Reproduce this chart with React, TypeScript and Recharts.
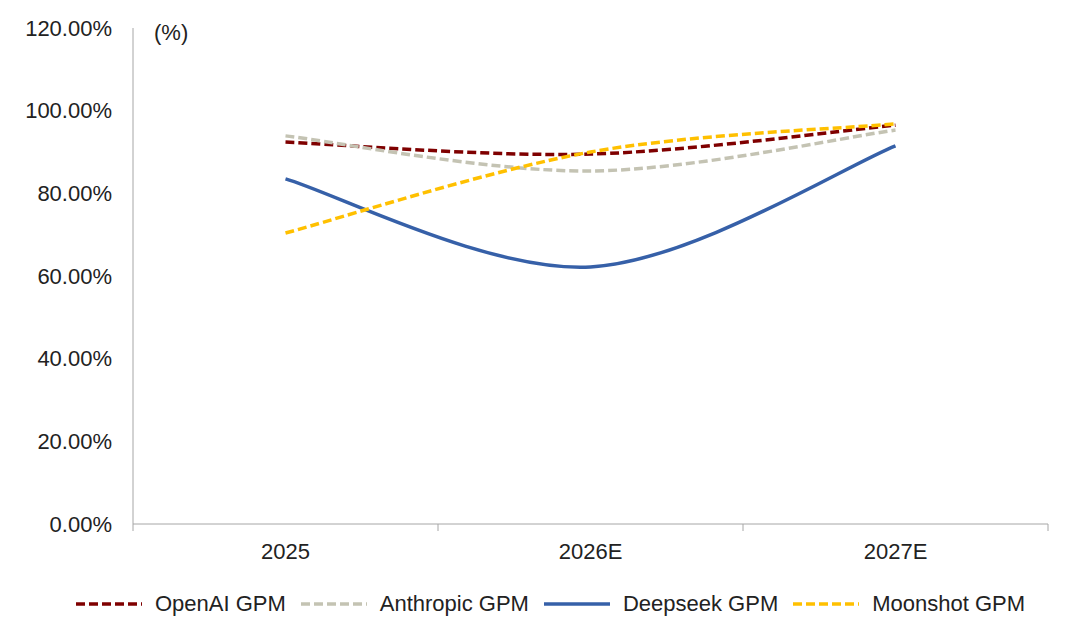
import React from 'react';
import { LineChart, Line, XAxis, YAxis, Legend } from 'recharts';

const categories = ['2025', '2026E', '2027E'];
const openAI = [0.924, 0.895, 0.965];
const anthropic = [0.939, 0.854, 0.953];
const deepseek = [0.835, 0.622, 0.915];
const moonshot = [0.704, 0.9, 0.968];
const yTicks = [0, 0.2, 0.4, 0.6, 0.8, 1.0, 1.2];

const series = [
  { key: 'openAI', name: 'OpenAI GPM', color: '#7f0000', dash: '9 4' },
  { key: 'anthropic', name: 'Anthropic GPM', color: '#c4c3b3', dash: '9 4' },
  { key: 'deepseek', name: 'Deepseek GPM', color: '#3660a8', dash: undefined },
  { key: 'moonshot', name: 'Moonshot GPM', color: '#ffc000', dash: '9 4' },
];

const data = categories.map((c, i) => ({
  x: i + 0.5,
  label: c,
  openAI: openAI[i],
  anthropic: anthropic[i],
  deepseek: deepseek[i],
  moonshot: moonshot[i],
}));

const xTicks = [0, 0.5, 1, 1.5, 2, 2.5, 3];
const FONT = 'Liberation Sans, Arial, sans-serif';
const TEXT = '#222';

// Excel-like smoothing: Catmull-Rom (cardinal, tension 0) curve
const smoothCurve = (context: any) => {
  let pts: [number, number][] = [];
  return {
    areaStart() {},
    areaEnd() {},
    lineStart() {
      pts = [];
    },
    point(x: number, y: number) {
      pts.push([+x, +y]);
    },
    lineEnd() {
      if (!pts.length) return;
      context.moveTo(pts[0][0], pts[0][1]);
      const n = pts.length;
      for (let i = 0; i < n - 1; i++) {
        const p0 = pts[Math.max(i - 1, 0)];
        const p1 = pts[i];
        const p2 = pts[i + 1];
        const p3 = pts[Math.min(i + 2, n - 1)];
        context.bezierCurveTo(
          p1[0] + (p2[0] - p0[0]) / 6,
          p1[1] + (p2[1] - p0[1]) / 6,
          p2[0] - (p3[0] - p1[0]) / 6,
          p2[1] - (p3[1] - p1[1]) / 6,
          p2[0],
          p2[1]
        );
      }
    },
  };
};

const XTick = (props: any) => {
  const { x, y, payload } = props;
  const v = payload.value;
  if (Number.isInteger(v)) {
    return <line x1={x} x2={x} y1={y} y2={y + 7} stroke="#a6a6a6" strokeWidth={1} />;
  }
  return (
    <text x={x} y={y + 35} textAnchor="middle" fill={TEXT} fontSize={22} fontFamily={FONT}>
      {categories[Math.floor(v)]}
    </text>
  );
};

const LegendContent = () => (
  <div
    style={{
      display: 'flex',
      justifyContent: 'center',
      alignItems: 'center',
      fontFamily: FONT,
      fontSize: 22,
      color: TEXT,
      gap: 14,
      height: 40,
      paddingLeft: 52,
    }}
  >
    {series.map((s) => (
      <div key={s.key} style={{ display: 'flex', alignItems: 'center' }}>
        <svg width={68} height={10} style={{ marginRight: 12 }}>
          <line x1={1} x2={67} y1={5} y2={5} stroke={s.color} strokeWidth={3.5} strokeDasharray={s.dash ? '9 4' : undefined} />
        </svg>
        <span>{s.name}</span>
      </div>
    ))}
  </div>
);

export default function App() {
  return (
    <div style={{ position: 'absolute', left: 0, top: 0, width: 1080, height: 634, background: '#fff' }}>
      <LineChart width={1080} height={634} data={data} margin={{ top: 28, right: 32, left: 0, bottom: 10 }}>
        <XAxis
          dataKey="x"
          type="number"
          domain={[0, 3]}
          ticks={xTicks}
          tick={<XTick />}
          tickLine={false}
          tickSize={0}
          tickMargin={0}
          axisLine={{ stroke: '#a6a6a6' }}
          height={60}
          interval={0}
        />
        <YAxis
          type="number"
          domain={[0, 1.2]}
          ticks={yTicks}
          width={133}
          tickLine={false}
          tickSize={0}
          tickMargin={21}
          axisLine={{ stroke: '#a6a6a6' }}
          tick={{ fill: TEXT, fontSize: 22, fontFamily: FONT }}
          tickFormatter={(v: number) => (v * 100).toFixed(2) + '%'}
          interval={0}
        />
        <Legend verticalAlign="bottom" height={40} content={<LegendContent />} />
        {series.map((s) => (
          <Line
            key={s.key}
            dataKey={s.key}
            name={s.name}
            type={smoothCurve as any}
            stroke={s.color}
            strokeWidth={3.5}
            strokeDasharray={s.dash}
            dot={false}
            activeDot={false}
            isAnimationActive={false}
          />
        ))}
      </LineChart>
      <div style={{ position: 'absolute', left: 154, top: 20, fontFamily: FONT, fontSize: 22, color: TEXT }}>(%)</div>
    </div>
  );
}
